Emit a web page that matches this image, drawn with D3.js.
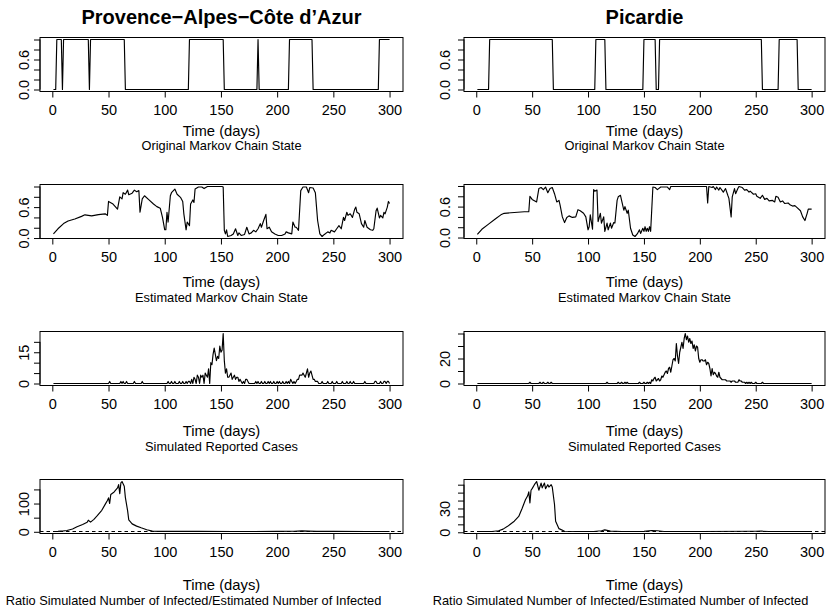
<!DOCTYPE html>
<html><head><meta charset="utf-8">
<script src="https://cdn.jsdelivr.net/npm/d3@7"></script>
<style>
body{margin:0;background:#fff}
text{font-family:"Liberation Sans",Arial,Helvetica,sans-serif;fill:#000}
</style>
</head><body>
<svg id="c" width="827" height="612"></svg>
<script>
// ---------------- DATA ----------------
const regions = ["Provence\u2212Alpes\u2212C\u00f4te d\u2019Azur", "Picardie"];
const subtitles = ["Original Markov Chain State","Estimated Markov Chain State","Simulated Reported Cases","Ratio Simulated Number of Infected/Estimated Number of Infected"];
const xLabel = "Time (days)";
const xTicks = [0,50,100,150,200,250,300];
const dayRange = [1,300];

// Row 1: original Markov chain state, as runs [startDay, endDay, state]
const pacaStateRuns = [[1,3,0],[4,8,1],[9,9,0],[10,32,1],[33,33,0],[34,64,1],[65,121,0],[122,152,1],[153,182,0],[183,183,1],[184,210,0],[211,231,1],[232,290,0],[291,300,1]];
const picStateRuns = [[1,11,0],[12,68,1],[69,106,0],[107,115,1],[116,149,0],[150,160,1],[161,163,0],[164,255,1],[256,270,0],[271,287,1],[288,300,0]];

// Row 2: estimated Markov chain state [day, value]
const pacaEst = [[1,0.08],[5,0.18],[10,0.28],[14,0.33],[20,0.37],[26,0.42],[29,0.45],[35,0.43],[41,0.455],[47,0.47],[49,0.44],[50,0.71],[54,0.66],[58,0.56],[60,0.80],[62,0.76],[63,0.88],[65,0.85],[67,0.93],[68,0.84],[71,0.87],[73,0.93],[75,0.90],[77,0.92],[78,0.50],[80,0.76],[82,0.82],[86,0.74],[90,0.66],[93,0.61],[96,0.58],[98,0.40],[100,0.16],[101,0.16],[102,0.50],[103,0.31],[105,0.82],[106,0.88],[109,0.95],[111,0.85],[114,0.79],[116,0.71],[117,0.47],[119,0.16],[120,0.31],[122,0.24],[123,0.66],[125,0.74],[126,0.69],[127,0.95],[130,0.99],[133,0.99],[135,0.96],[138,1.0],[151,1.0],[152,0.99],[153,0.15],[154,0.08],[155,0.16],[156,0.03],[159,0.05],[161,0.08],[163,0.18],[165,0.05],[166,0.10],[168,0.05],[171,0.07],[173,0.21],[175,0.08],[177,0.10],[179,0.15],[181,0.12],[183,0.18],[185,0.28],[186,0.21],[188,0.34],[190,0.46],[191,0.18],[193,0.21],[195,0.12],[198,0.08],[201,0.05],[204,0.05],[207,0.08],[208,0.12],[210,0.10],[213,0.08],[214,0.31],[216,0.21],[217,0.21],[219,0.15],[221,0.92],[223,0.99],[226,0.99],[228,0.88],[229,0.98],[232,0.97],[234,0.88],[236,0.34],[238,0.08],[240,0.03],[242,0.07],[245,0.12],[247,0.10],[248,0.15],[251,0.12],[253,0.18],[255,0.24],[257,0.18],[259,0.40],[260,0.34],[262,0.50],[263,0.44],[265,0.47],[267,0.40],[269,0.56],[270,0.60],[271,0.50],[273,0.47],[275,0.28],[277,0.21],[278,0.34],[280,0.21],[283,0.16],[285,0.15],[286,0.18],[288,0.53],[289,0.58],[291,0.39],[292,0.44],[294,0.39],[295,0.50],[296,0.47],[298,0.60],[299,0.71],[300,0.67]];
const picEst = [[1,0.06],[5,0.16],[11,0.26],[17,0.36],[22,0.44],[25,0.47],[31,0.48],[37,0.49],[43,0.50],[47,0.50],[48,0.80],[50,0.74],[54,0.69],[56,0.95],[58,0.97],[60,0.93],[62,0.98],[64,0.87],[66,0.95],[68,0.97],[70,0.85],[72,0.69],[74,0.72],[75,0.63],[77,0.40],[79,0.29],[81,0.39],[83,0.42],[86,0.39],[89,0.40],[91,0.54],[93,0.52],[96,0.47],[98,0.40],[100,0.15],[101,0.21],[102,0.44],[104,0.16],[105,0.93],[106,0.90],[108,0.92],[109,0.31],[111,0.47],[112,0.28],[114,0.40],[115,0.12],[117,0.28],[118,0.15],[120,0.28],[121,0.18],[123,0.29],[124,0.28],[126,0.72],[127,0.79],[129,0.82],[130,0.72],[132,0.53],[133,0.60],[135,0.47],[136,0.53],[138,0.18],[140,0.05],[142,0.02],[144,0.07],[146,0.15],[147,0.08],[149,0.18],[150,0.12],[151,0.21],[152,0.12],[153,0.18],[154,0.12],[155,0.21],[156,0.12],[158,0.98],[160,0.97],[162,0.93],[165,0.98],[171,0.98],[173,0.93],[174,0.99],[206,0.99],[207,0.67],[208,0.99],[211,0.97],[212,0.99],[214,0.93],[215,0.98],[217,0.92],[218,0.97],[221,0.88],[223,0.95],[225,0.82],[226,0.76],[228,0.40],[229,0.79],[231,0.95],[232,0.85],[234,0.95],[235,0.99],[238,0.97],[240,0.92],[242,0.93],[244,0.88],[245,0.90],[248,0.84],[250,0.85],[251,0.80],[254,0.76],[256,0.82],[258,0.74],[260,0.76],[262,0.71],[265,0.72],[267,0.69],[268,0.80],[270,0.78],[272,0.69],[274,0.71],[276,0.66],[279,0.67],[281,0.63],[283,0.61],[285,0.62],[287,0.58],[290,0.52],[292,0.40],[294,0.33],[296,0.47],[297,0.55],[300,0.55]];

// Row 3: simulated reported cases, non-zero days [day, count] (all other days 0)
const pacaCases = [[51,1],[61,1],[63,1],[66,1],[73,1],[80,1],[103,1],[106,1],[109,1],[113,1],[116,1],[119,1],[121,1],[122,1],[124,2],[126,3],[127,2],[129,4],[130,3],[132,4],[133,3],[134,4],[136,5],[137,4],[138,3],[139,7],[141,10],[142,9],[143,14],[144,17],[145,14],[146,11],[147,13],[148,12],[149,18],[150,15],[151,16],[152,24],[153,11],[154,5],[155,7],[156,3],[157,3],[158,4],[159,5],[160,2],[161,3],[162,4],[163,2],[164,3],[165,3],[166,1],[167,2],[168,1],[170,1],[172,2],[173,2],[174,1],[181,1],[183,1],[186,1],[189,1],[192,1],[194,1],[197,1],[200,1],[202,1],[205,1],[208,1],[210,1],[212,2],[213,1],[215,1],[217,1],[218,2],[219,2],[220,4],[221,4],[222,4],[223,5],[224,4],[225,3],[226,5],[227,7],[228,3],[229,5],[230,6],[231,4],[232,2],[233,2],[234,1],[235,1],[236,1],[240,1],[245,1],[249,1],[253,1],[258,1],[262,1],[265,1],[268,1],[278,1],[287,1],[288,1],[292,1],[295,1],[296,1],[298,1],[299,1]];
const picCases = [[48,1],[57,1],[60,1],[64,1],[67,1],[117,1],[127,1],[130,1],[133,1],[135,1],[146,1],[150,1],[153,1],[155,1],[157,3],[158,2],[159,4],[160,5],[161,2],[162,3],[163,4],[164,2],[165,3],[166,6],[167,5],[168,7],[169,9],[170,10],[171,8],[172,12],[173,13],[174,9],[175,14],[176,19],[177,20],[178,18],[179,32],[180,22],[181,16],[182,25],[183,29],[184,33],[185,28],[186,36],[187,40],[188,35],[189,38],[190,33],[191,36],[192,32],[193,34],[194,28],[195,31],[196,26],[197,30],[198,29],[199,20],[200,17],[201,19],[202,19],[203,18],[204,18],[205,19],[206,15],[207,17],[208,16],[209,12],[210,6],[211,12],[212,7],[213,9],[214,8],[215,6],[216,5],[217,9],[218,5],[219,4],[220,3],[221,3],[222,3],[223,3],[224,2],[225,2],[226,2],[227,2],[228,1],[229,2],[230,2],[231,2],[232,1],[233,1],[234,1],[235,3],[236,2],[237,2],[238,1],[239,1],[240,1],[242,1],[244,1],[246,1],[250,1],[256,1]];

// Row 4: ratio simulated / estimated infected [day, value]
const pacaRatio = [[1,1],[5,1.5],[10,3],[13,4.5],[18,10],[22,18],[27,26],[31,34],[32,41],[34,34],[37,44],[40,57],[44,76],[47,97],[49,111],[50,120],[51,100],[52,132],[55,141],[58,155],[59,167],[60,135],[61,173],[62,178],[64,161],[65,121],[67,74],[68,42],[71,28],[75,20],[79,14],[84,7],[89,2.3],[95,1.5],[100,1.2],[130,1.3],[160,1.1],[200,1.2],[215,1.8],[222,3],[228,2.5],[235,1.5],[250,1.2],[280,1.0],[300,1.0]];
const picRatio = [[1,1],[10,1],[14,1],[20,2],[24,4],[28,7.5],[34,14],[38,20],[41,30],[44,41],[46,46],[47,51],[48,37],[49,53],[50,55],[52,60],[54,64],[56,53],[58,62],[59,56],[61,62],[62,55],[64,60],[65,57],[67,60],[68,57],[70,35],[71,14],[74,4.6],[79,1.3],[90,1],[105,1],[112,2],[115,3],[120,1.5],[130,1],[150,1.2],[157,2.2],[162,2],[168,1],[200,1],[250,1.3],[255,1.4],[262,1],[300,1]];
const ratioReference = 1;

// y ticks and which tick labels are printed
const stateTicks = [0,0.2,0.4,0.6,0.8,1.0], stateLabels = [0,0.6];
const pacaCaseTicks = [0,5,10,15,20], pacaCaseLabels = [0,15];
const picCaseTicks = [0,10,20,30,40], picCaseLabels = [0,20];
const pacaRatioTicks = [0,50,100,150], pacaRatioLabels = [0,100];
const picRatioTicks = [0,10,20,30,40,50,60], picRatioLabels = [0,30];

// ---------------- BUILD ----------------
function fromRuns(runs){ const out=[]; runs.forEach(([s,e,v])=>{ out.push([s,v]); if(e!==s) out.push([e,v]); }); return out; }
function fromCounts(nz){ const m=new Map(nz); const out=[]; for(let d=dayRange[0]; d<=dayRange[1]; d++) out.push([d, m.get(d)||0]); return out; }

const panels = [
  [{data:fromRuns(pacaStateRuns), ticks:stateTicks, labels:stateLabels, fmt:d3.format(".1f")},
   {data:fromRuns(picStateRuns), ticks:stateTicks, labels:stateLabels, fmt:d3.format(".1f")}],
  [{data:pacaEst, ticks:stateTicks, labels:stateLabels, fmt:d3.format(".1f")},
   {data:picEst, ticks:stateTicks, labels:stateLabels, fmt:d3.format(".1f")}],
  [{data:fromCounts(pacaCases), ticks:pacaCaseTicks, labels:pacaCaseLabels, fmt:d3.format("d")},
   {data:fromCounts(picCases), ticks:picCaseTicks, labels:picCaseLabels, fmt:d3.format("d")}],
  [{data:pacaRatio, ticks:pacaRatioTicks, labels:pacaRatioLabels, fmt:d3.format("d"), ref:ratioReference},
   {data:picRatio, ticks:picRatioTicks, labels:picRatioLabels, fmt:d3.format("d"), ref:ratioReference}]
];

// ---------------- LAYOUT ----------------
const svg = d3.select("#c");
const colBox = [{l:40,r:403},{l:464,r:825}];
const rowBox = [{t:37.5,b:91.5},{t:184.5,b:238.5},{t:331.5,b:385.5},{t:479.5,b:533.5}];
const xlabY = [136,287,436,589.5];
const subY = [149.5,301.5,450.5,605];
const yLabX = [29,449.5];
const subX = [[221.5,644.5],[221.5,644.5],[221.5,644.5],[193.5,620.5]];

const span = dayRange[1]-dayRange[0];
const xDomain = [dayRange[0]-0.04*span, dayRange[1]+0.04*span];

colBox.forEach((cb,c)=>{
  svg.append("text").attr("x",(cb.l+cb.r)/2).attr("y",24).attr("text-anchor","middle")
    .attr("font-size",20).attr("font-weight","bold").text(regions[c]);
});

panels.forEach((row,r)=>{
  row.forEach((p,c)=>{
    const cb=colBox[c], rb=rowBox[r];
    const x=d3.scaleLinear().domain(xDomain).range([cb.l,cb.r]);
    const ext=d3.extent(p.data,d=>d[1]); const pad=0.04*(ext[1]-ext[0]);
    const y=d3.scaleLinear().domain([ext[0]-pad,ext[1]+pad]).range([rb.b,rb.t]);
    const g=svg.append("g");

    // x axis
    const gx=g.append("g").attr("transform",`translate(0,${rb.b})`)
      .call(d3.axisBottom(x).tickValues(xTicks).tickSize(6).tickSizeOuter(0).tickFormat(d3.format("d")));
    gx.select(".domain").attr("d",`M${x(xTicks[0])},0H${x(xTicks[xTicks.length-1])}`).attr("stroke","#000");
    gx.attr("font-family",null).attr("font-size",null);
    gx.selectAll(".tick line").attr("stroke","#000");
    gx.selectAll(".tick text").attr("y",23.5).attr("dy",null).attr("font-size",14.5).attr("fill","#000");

    // y axis
    const gy=g.append("g").attr("transform",`translate(${cb.l},0)`)
      .call(d3.axisLeft(y).tickValues(p.ticks).tickSize(6).tickSizeOuter(0)
        .tickFormat(v=>p.labels.includes(v)?p.fmt(v):""));
    gy.select(".domain").attr("d",`M0,${y(p.ticks[0])}V${y(p.ticks[p.ticks.length-1])}`).attr("stroke","#000");
    gy.attr("font-family",null).attr("font-size",null);
    gy.selectAll(".tick line").attr("stroke","#000");
    gy.selectAll(".tick text").attr("x",0).attr("dy",null).attr("text-anchor","middle")
      .attr("transform",`translate(${yLabX[c]-cb.l},0) rotate(-90)`).attr("font-size",14.5).attr("fill","#000");

    // reference line
    if(p.ref!==undefined){
      g.append("line").attr("x1",cb.l).attr("x2",cb.r).attr("y1",y(p.ref)).attr("y2",y(p.ref))
        .attr("stroke","#000").attr("stroke-width",1.1).attr("stroke-dasharray","3.5,3");
    }
    // series
    g.append("path").datum(p.data).attr("fill","none").attr("stroke","#000").attr("stroke-width",1.15)
      .attr("stroke-linejoin","round")
      .attr("d",d3.line().x(d=>x(d[0])).y(d=>y(d[1])));
    // box
    g.append("rect").attr("x",cb.l).attr("y",rb.t).attr("width",cb.r-cb.l).attr("height",rb.b-rb.t)
      .attr("fill","none").attr("stroke","#000").attr("stroke-width",1);
    // labels
    g.append("text").attr("x",(cb.l+cb.r)/2).attr("y",xlabY[r]).attr("text-anchor","middle")
      .attr("font-size",14.8).text(xLabel);
    g.append("text").attr("x",subX[r][c]).attr("y",subY[r]).attr("text-anchor","middle")
      .attr("font-size",12.8).text(subtitles[r]);
  });
});
</script>
</body></html>
